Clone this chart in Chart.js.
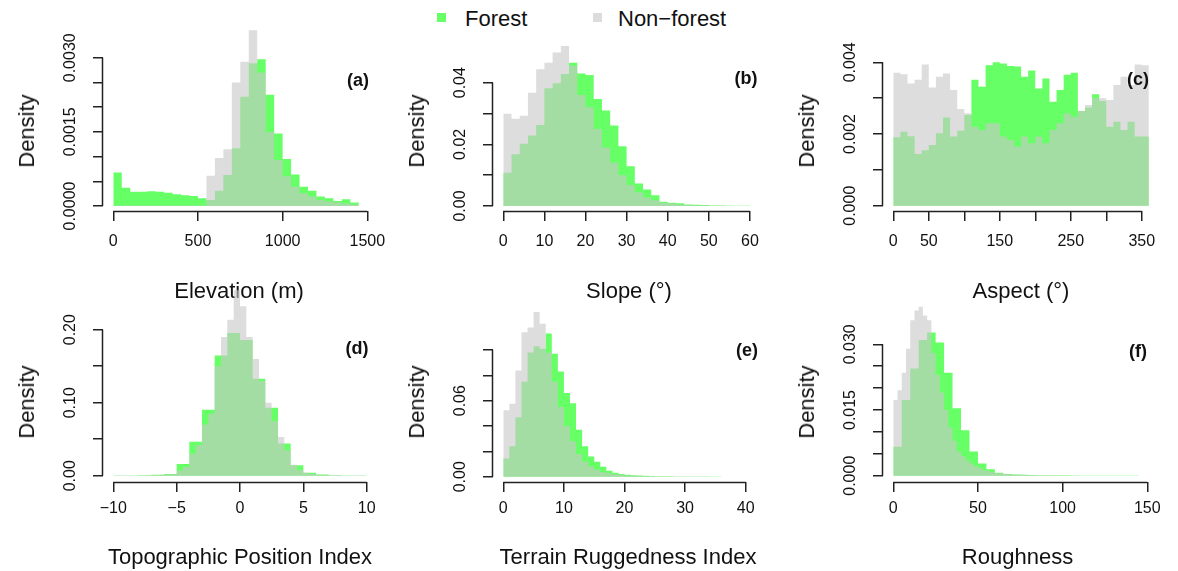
<!DOCTYPE html>
<html>
<head>
<meta charset="utf-8">
<script src="https://cdn.jsdelivr.net/npm/chart.js@4.4.1/dist/chart.umd.min.js"></script>
<style>
  body { margin: 0; background: #fff; width: 1178px; height: 571px; position: relative; overflow: hidden;
         font-family: "Liberation Sans", Arial, sans-serif; color: #111; }
  canvas { position: absolute; }
  .tag { position: absolute; font-weight: bold; font-size: 18px; transform: translate(-50%, -50%); }
  .ylab { position: absolute; font-size: 22px; line-height: 1; white-space: nowrap; transform: translate(-50%, -50%) rotate(-90deg); }
  .key { position: absolute; width: 9px; height: 9px; }
  .keytxt { position: absolute; font-size: 22px; line-height: 1; transform: translateY(-50%); }
</style>
</head>
<body>
<div class="key" style="left:437px;top:13px;background:#66ff66"></div>
<div class="keytxt" style="left:465px;top:19px">Forest</div>
<div class="key" style="left:593px;top:13px;background:#dcdcdc"></div>
<div class="keytxt" style="left:618px;top:19px">Non−forest</div>

<script>
// (a) Elevation, bins of 50 m from 0
const elevForest = [0.00068, 0.00037, 0.00029, 0.00029, 0.00030, 0.00029, 0.00027, 0.00024, 0.00022, 0.00020,
  0.000155, 0.00012, 0.00031, 0.00063, 0.00117, 0.00221, 0.00289, 0.00297, 0.00225, 0.00147,
  0.00095, 0.00064, 0.00039, 0.00031, 0.00019, 0.000155, 0.00010, 0.000135, 0.00007];
const elevNonForest = [0.00001, 0.00001, 0.00001, 0.00001, 0.00001, 0.00001, 0.00001, 0.00001, 0.00001, 0.00001,
  0.00001, 0.00061, 0.00097, 0.00115, 0.00250, 0.00292, 0.00356, 0.00270, 0.00150, 0.00093,
  0.00060, 0.00039, 0.00026, 0.00019, 0.00012, 0.00009, 0.00007, 0.00005, 0.00003];
const elevXTicks = [0, 500, 1000, 1500];
const elevXLabels = ["0", "500", "1000", "1500"];
const elevYTicks = [0, 0.0005, 0.001, 0.0015, 0.002, 0.0025, 0.003];
const elevYLabels = ["0.0000", "", "", "0.0015", "", "", "0.0030"];

// (b) Slope, bins of 2 degrees from 0
const slopeForest = [0.0108, 0.0168, 0.0202, 0.0229, 0.0263, 0.0382, 0.0398, 0.0428, 0.0465, 0.0430,
  0.0425, 0.0347, 0.0310, 0.0261, 0.0194, 0.0129, 0.0073, 0.0054, 0.0035, 0.0014,
  0.0011, 0.0009, 0.0005, 0.0004, 0.0003, 0.0002, 0.0002, 0.0001, 0.0001, 0.00005];
const slopeNonForest = [0.0299, 0.0283, 0.0293, 0.0367, 0.0444, 0.0465, 0.0498, 0.0519, 0.0455, 0.0360,
  0.0320, 0.0250, 0.0190, 0.0140, 0.0100, 0.0068, 0.0045, 0.0028, 0.0019, 0.0011,
  0.0008, 0.0005, 0.0003, 0.0002, 0.00015, 0.0001, 0.0001, 0.00005, 0.00003, 0.00002];
const slopeXTicks = [0, 10, 20, 30, 40, 50, 60];
const slopeXLabels = ["0", "10", "20", "30", "40", "50", "60"];
const slopeYTicks = [0, 0.01, 0.02, 0.03, 0.04];
const slopeYLabels = ["0.00", "", "0.02", "", "0.04"];

// (c) Aspect, bins of 10 degrees from 0
const aspectForest = [0.00191, 0.00206, 0.00194, 0.00144, 0.00155, 0.00169, 0.00202, 0.00246, 0.00193, 0.00209,
  0.00253, 0.00351, 0.00332, 0.00392, 0.00400, 0.00397, 0.00390, 0.00388, 0.00360, 0.00377,
  0.00327, 0.00355, 0.00290, 0.00323, 0.00365, 0.00371, 0.00264, 0.00274, 0.00311, 0.00292,
  0.00220, 0.00234, 0.00211, 0.00234, 0.00193, 0.00193];
const aspectNonForest = [0.00371, 0.00367, 0.00341, 0.00351, 0.00394, 0.00330, 0.00360, 0.00369, 0.00323, 0.00270,
  0.00258, 0.00220, 0.00211, 0.00230, 0.00230, 0.00193, 0.00183, 0.00165, 0.00193, 0.00174,
  0.00193, 0.00174, 0.00211, 0.00230, 0.00258, 0.00248, 0.00264, 0.00281, 0.00300, 0.00300,
  0.00295, 0.00337, 0.00360, 0.00337, 0.00394, 0.00392];
const aspectXTicks = [0, 50, 100, 150, 200, 250, 300, 350];
const aspectXLabels = ["0", "50", "", "150", "", "250", "", "350"];
const aspectYTicks = [0, 0.001, 0.002, 0.003, 0.004];
const aspectYLabels = ["0.000", "", "0.002", "", "0.004"];

// (d) TPI, forest bins of 1 and non-forest bins of 0.5 from -10
const tpiForest = [0.0002, 0.0003, 0.0005, 0.0012, 0.0025, 0.0159, 0.0464, 0.0904, 0.1645, 0.1955,
  0.1860, 0.1327, 0.0932, 0.0441, 0.0145, 0.0041, 0.0018, 0.0008, 0.0004, 0.0002];
const tpiNonForest = [0.0002, 0.0002, 0.0003, 0.0003, 0.0004, 0.0005, 0.0008, 0.0010, 0.0015, 0.0020,
  0.0070, 0.0120, 0.0300, 0.0420, 0.0700, 0.0850, 0.1500, 0.1900, 0.2136, 0.2540,
  0.2320, 0.1900, 0.1600, 0.1300, 0.1000, 0.0750, 0.0530, 0.0350, 0.0150, 0.0080,
  0.0040, 0.0025, 0.0015, 0.0010, 0.0008, 0.0005, 0.0004, 0.0003, 0.0002, 0.0002];
const tpiXTicks = [-10, -5, 0, 5, 10];
const tpiXLabels = ["−10", "−5", "0", "5", "10"];
const tpiYTicks = [0, 0.05, 0.1, 0.15, 0.2];
const tpiYLabels = ["0.00", "", "0.10", "", "0.20"];

// (e) TRI, bins of 1 from 0
const triForest = [0.0144, 0.0240, 0.0470, 0.0750, 0.0980, 0.1030, 0.1010, 0.1130, 0.0970, 0.0830,
  0.0660, 0.0580, 0.0370, 0.0240, 0.0160, 0.0118, 0.0079, 0.0047, 0.0031, 0.0021,
  0.0016, 0.0012, 0.0009, 0.0007, 0.0005, 0.0004, 0.0003, 0.0003, 0.0002, 0.0002,
  0.0002, 0.0001, 0.0001, 0.0001, 0.0001, 0.0001, 0.00005, 0.00005, 0.00005, 0.00005, 0.00005];
const triNonForest = [0.0524, 0.0576, 0.0838, 0.1140, 0.1178, 0.1300, 0.1207, 0.0980, 0.0750, 0.0550,
  0.0400, 0.0280, 0.0180, 0.0120, 0.0080, 0.0055, 0.0038, 0.0028, 0.0020, 0.0015,
  0.0010, 0.0008, 0.0006, 0.0005, 0.0004, 0.0003, 0.0003, 0.0002, 0.0002, 0.0002,
  0.0001, 0.0001, 0.0001, 0.0001, 0.00005, 0.00005, 0.00005, 0.00005, 0.00003, 0.00003, 0.00003];
const triXTicks = [0, 10, 20, 30, 40];
const triXLabels = ["0", "10", "20", "30", "40"];
const triYTicks = [0, 0.02, 0.04, 0.06, 0.08, 0.1];
const triYLabels = ["0.00", "", "", "0.06", "", ""];

// (f) Roughness, forest bins of 5 and non-forest bins of 2.5 from 0
const roughForest = [0.00662, 0.01727, 0.0245, 0.0310, 0.0327, 0.0304, 0.0235, 0.0154, 0.0104, 0.0055,
  0.0028, 0.00145, 0.0007, 0.0004, 0.0003, 0.0002, 0.00015, 0.0001, 0.0001, 0.0001,
  0.00008, 0.00006, 0.00005, 0.00004, 0.00003, 0.00003, 0.00002, 0.00002, 0.00002, 0.00001];
const roughNonForest = [0.0173, 0.0195, 0.0235, 0.0290, 0.0355, 0.0377, 0.0386, 0.0366, 0.0355, 0.0280,
  0.0230, 0.0190, 0.0150, 0.0110, 0.0080, 0.0055, 0.0045, 0.0035, 0.0028, 0.0022,
  0.0018, 0.0013, 0.0010, 0.0008, 0.0006, 0.0005, 0.0004, 0.0003, 0.0003, 0.0002,
  0.0002, 0.00015, 0.00015, 0.0001, 0.0001, 0.0001, 0.00008, 0.00008, 0.00006, 0.00006,
  0.00005, 0.00005, 0.00004, 0.00004];
const roughXTicks = [0, 50, 100, 150];
const roughXLabels = ["0", "50", "100", "150"];
const roughYTicks = [0, 0.005, 0.01, 0.015, 0.02, 0.025, 0.03];
const roughYLabels = ["0.000", "", "", "0.015", "", "", "0.030"];

const forestColor = "#66ff66";
const nonForestColor = "rgba(200,200,200,0.62)";
const inkColor = "#222";
const fontFamily = '"Liberation Sans", Arial, sans-serif';

Chart.defaults.font.family = fontFamily;
Chart.defaults.color = "#111";

// plot region on the page (L = y axis, B = x axis), value ranges and where the "Density" label sits
const panels = [
  { L: 103, R: 375, T: 20, B: 211, x: [-60.8, 1545.5], y: [-1.012e-4, 0.003765], title: "Elevation (m)", densityY: 131,
    forest: [elevForest, 0, 50], non: [elevNonForest, 0, 50], xt: elevXTicks, xl: elevXLabels, yt: elevYTicks, yl: elevYLabels, tag: "(a)", tagAt: [358, 80] },
  { L: 493, R: 765, T: 20, B: 211, x: [-2.506, 63.67], y: [-0.001613, 0.06], title: "Slope (°)", densityY: 131,
    forest: [slopeForest, 0, 2], non: [slopeNonForest, 0, 2], xt: slopeXTicks, xl: slopeXLabels, yt: slopeYTicks, yl: slopeYLabels, tag: "(b)", tagAt: [746, 78] },
  { L: 883, R: 1159, T: 20, B: 211, x: [-14.51, 374.3], y: [-1.478e-4, 0.00518], title: "Aspect (°)", densityY: 131,
    forest: [aspectForest, 0, 10], non: [aspectNonForest, 0, 10], xt: aspectXTicks, xl: aspectXLabels, yt: aspectYTicks, yl: aspectYLabels, tag: "(c)", tagAt: [1138, 79] },
  { L: 103, R: 377, T: 285, B: 482, x: [-10.816, 10.816], y: [-0.00858, 0.2598], title: "Topographic Position Index", densityY: 402,
    forest: [tpiForest, -10, 1], non: [tpiNonForest, -10, 0.5], xt: tpiXTicks, xl: tpiXLabels, yt: tpiYTicks, yl: tpiYLabels, tag: "(d)", tagAt: [357, 348] },
  { L: 493, R: 763, T: 285, B: 482, x: [-1.70, 42.85], y: [-0.00416, 0.1505], title: "Terrain Ruggedness Index", densityY: 402,
    forest: [triForest, 0, 1], non: [triNonForest, 0, 1], xt: triXTicks, xl: triXLabels, yt: triYTicks, yl: triYLabels, tag: "(e)", tagAt: [747, 350] },
  { L: 883, R: 1152, T: 285, B: 482, x: [-6.08, 152.8], y: [-0.001438, 0.04354], title: "Roughness", densityY: 402,
    forest: [roughForest, 0, 5], non: [roughNonForest, 0, 2.5], xt: roughXTicks, xl: roughXLabels, yt: roughYTicks, yl: roughYLabels, tag: "(f)", tagAt: [1138, 351] },
];

const AXIS_W = 95, AXIS_H = 95, PAD_TOP = 15, PAD_RIGHT = 40, TICK = 10, TICK_FONT = 16;

const meas = document.createElement("canvas").getContext("2d");
meas.font = TICK_FONT + "px " + fontFamily;

// histogram outline: one point per bin's left edge, closed at the last break
function stepPoints(values, start, width) {
  const pts = values.map((v, i) => ({ x: start + i * width, y: v }));
  pts.push({ x: start + values.length * width, y: 0 });
  return pts;
}

// R style axis line: only from first to last tick
const rAxisLines = {
  id: "rAxisLines",
  afterDraw(chart) {
    const { ctx, chartArea, scales } = chart;
    const xs = scales.x, ys = scales.y;
    ctx.save();
    ctx.strokeStyle = inkColor;
    ctx.lineWidth = 1.5;
    ctx.beginPath();
    const yb = Math.round(chartArea.bottom) + 0.5;
    const xl = Math.round(chartArea.left) - 0.5;
    ctx.moveTo(xs.getPixelForValue(xs.ticks[0].value), yb);
    ctx.lineTo(xs.getPixelForValue(xs.ticks[xs.ticks.length - 1].value), yb);
    ctx.moveTo(xl, ys.getPixelForValue(ys.ticks[0].value));
    ctx.lineTo(xl, ys.getPixelForValue(ys.ticks[ys.ticks.length - 1].value));
    ctx.stroke();
    ctx.restore();
  },
};

function addText(cls, text, x, y) {
  const el = document.createElement("div");
  el.className = cls;
  el.textContent = text;
  el.style.left = x + "px";
  el.style.top = y + "px";
  document.body.appendChild(el);
}

panels.forEach((p) => {
  const canvas = document.createElement("canvas");
  canvas.width = p.R - p.L + AXIS_W + PAD_RIGHT;
  canvas.height = p.B - p.T + PAD_TOP + AXIS_H;
  canvas.style.left = p.L - AXIS_W + "px";
  canvas.style.top = p.T - PAD_TOP + "px";
  document.body.appendChild(canvas);

  const topRow = p.T < 200;
  const widest = Math.max(...p.yl.map((s) => meas.measureText(s).width));
  const yPad = 32 - TICK - widest / 2;

  new Chart(canvas.getContext("2d"), {
    type: "line",
    data: {
      datasets: [
        { label: "Forest", data: stepPoints(...p.forest), backgroundColor: forestColor, order: 1 },
        { label: "Non-forest", data: stepPoints(...p.non), backgroundColor: nonForestColor, order: 0 },
      ].map((d) => ({ ...d, stepped: "before", fill: "origin", borderColor: "rgba(0,0,0,0)", borderWidth: 0,
                      pointRadius: 0, pointHoverRadius: 0 })),
    },
    options: {
      responsive: false,
      animation: false,
      events: [],
      layout: { padding: { left: 0, right: PAD_RIGHT, top: PAD_TOP, bottom: 0 } },
      plugins: { legend: { display: false }, tooltip: { enabled: false } },
      scales: {
        x: {
          type: "linear",
          offset: false,
          min: p.x[0],
          max: p.x[1],
          afterBuildTicks: (s) => { s.ticks = p.xt.map((v) => ({ value: v })); },
          afterFit: (s) => { s.height = AXIS_H; },
          grid: { display: true, drawOnChartArea: false, drawTicks: true, tickLength: TICK, color: inkColor, lineWidth: 1.5, offset: false },
          border: { display: false },
          ticks: { autoSkip: false, maxRotation: 0, padding: topRow ? 11 : 7, font: { size: TICK_FONT },
                   callback: (v, i) => p.xl[i] },
          title: { display: true, text: p.title, font: { size: 22 }, padding: { top: 0, bottom: topRow ? 1 : 6 } },
        },
        y: {
          type: "linear",
          min: p.y[0],
          max: p.y[1],
          afterBuildTicks: (s) => { s.ticks = p.yt.map((v) => ({ value: v })); },
          afterFit: (s) => { s.width = AXIS_W; },
          grid: { display: true, drawOnChartArea: false, drawTicks: true, tickLength: TICK, color: inkColor, lineWidth: 1.5 },
          border: { display: false },
          ticks: { autoSkip: false, minRotation: 90, maxRotation: 90, crossAlign: "center", padding: yPad,
                   font: { size: TICK_FONT }, callback: (v, i) => p.yl[i] },
        },
      },
    },
    plugins: [rAxisLines],
  });

  addText("ylab", "Density", p.L - 76, p.densityY);
  addText("tag", p.tag, p.tagAt[0], p.tagAt[1]);
});
</script>
</body>
</html>
